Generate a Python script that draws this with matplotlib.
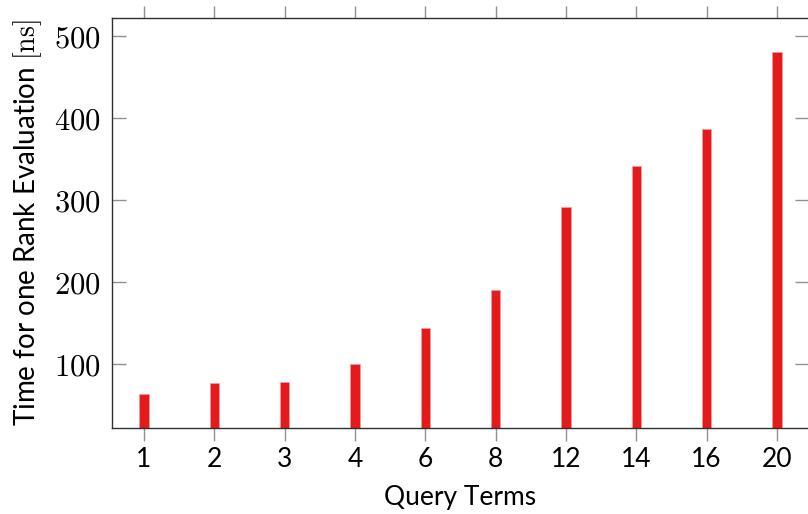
import numpy as np
import matplotlib.pyplot as plt

plt.rcParams['mathtext.fontset'] = 'cm'
plt.rcParams['font.family'] = ['Lato', 'DejaVu Sans']

# data
terms = ['1', '2', '3', '4', '6', '8', '12', '14', '16', '20']
times = [63, 76.5, 78, 100, 144, 190, 292, 341, 387, 480]

fig = plt.figure(figsize=(8.08, 5.14), dpi=100)
ax = fig.add_axes([0.1386, 0.1673, 0.8626, 0.7977])

pos = np.arange(1, len(terms) + 1)
ax.bar(pos, times, width=0.13, color='#e41a1c', edgecolor='#f0a0a0', linewidth=0.4, zorder=2)

ax.set_xlim(0.545, 10.455)
ax.set_ylim(22, 522)

ax.set_xticks(pos)
ax.set_xticklabels(terms, fontsize=19)
yt = [100, 200, 300, 400, 500]
ax.set_yticks(yt)
ax.set_yticklabels(['$%d$' % v for v in yt], fontsize=22)

ax.tick_params(axis='x', direction='out', length=9, width=1, color='#909090',
               top=True, bottom=True, pad=5)
ax.tick_params(axis='y', direction='in', length=10, width=1, color='#909090',
               left=True, right=True, pad=8)

for s in ax.spines.values():
    s.set_color('#303030')
    s.set_linewidth(1.0)

ax.set_xlabel('Query Terms', fontsize=19, labelpad=9)
ax.set_ylabel('Time for one Rank Evaluation $[\\mathrm{ns}]$', fontsize=20, labelpad=7)

fig.savefig('out.png', dpi=100)
